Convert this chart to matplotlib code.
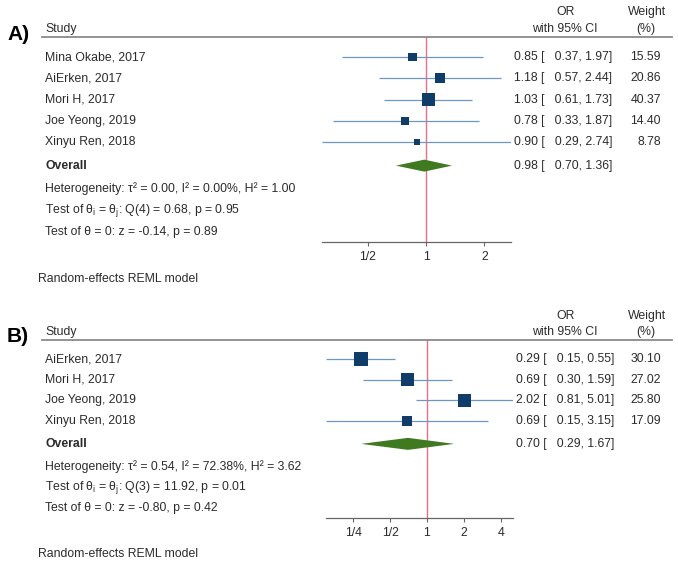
import matplotlib
matplotlib.use("Agg")
import matplotlib.pyplot as plt
import matplotlib.transforms as mtransforms
import numpy as np

plt.rcParams['font.family'] = ['Liberation Sans', 'DejaVu Sans']
plt.rcParams['mathtext.fontset'] = 'custom'
plt.rcParams['mathtext.rm'] = 'Liberation Sans'
plt.rcParams['mathtext.it'] = 'Liberation Sans:italic'
plt.rcParams['mathtext.bf'] = 'Liberation Sans:bold'

# panel A
studies_a = ['Mina Okabe, 2017', 'AiErken, 2017', 'Mori H, 2017',
             'Joe Yeong, 2019', 'Xinyu Ren, 2018']
or_a = [0.85, 1.18, 1.03, 0.78, 0.90]
lo_a = [0.37, 0.57, 0.61, 0.33, 0.29]
hi_a = [1.97, 2.44, 1.73, 1.87, 2.74]
weight_a = [15.59, 20.86, 40.37, 14.40, 8.78]
overall_a = [0.98, 0.70, 1.36]
stats_a = ['Heterogeneity: τ² = 0.00, I² = 0.00%, H² = 1.00',
           r'Test of θ$_\mathrm{i}$ = θ$_\mathrm{j}$: Q(4) = 0.68, p = 0.95',
           'Test of θ = 0: z = -0.14, p = 0.89']
ticks_a = [0.5, 1, 2]
ticklabels_a = ['1/2', '1', '2']

# panel B
studies_b = ['AiErken, 2017', 'Mori H, 2017', 'Joe Yeong, 2019', 'Xinyu Ren, 2018']
or_b = [0.29, 0.69, 2.02, 0.69]
lo_b = [0.15, 0.30, 0.81, 0.15]
hi_b = [0.55, 1.59, 5.01, 3.15]
weight_b = [30.10, 27.02, 25.80, 17.09]
overall_b = [0.70, 0.29, 1.67]
stats_b = ['Heterogeneity: τ² = 0.54, I² = 72.38%, H² = 3.62',
           r'Test of θ$_\mathrm{i}$ = θ$_\mathrm{j}$: Q(3) = 11.92, p = 0.01',
           'Test of θ = 0: z = -0.80, p = 0.42']
ticks_b = [0.25, 0.5, 1, 2, 4]
ticklabels_b = ['1/4', '1/2', '1', '2', '4']

W, H = 678, 563
TXT = '#2b2b2b'
FS = 8.8


def ci_text(e, l, h):
    return f'{e:.2f} [   {l:.2f}, {h:.2f}]'


def panel(fig, label, studies, es, lo, hi, wt, overall, stats, ticks, ticklabels,
          x0, x1, row0, sp, val_x):
    n = len(studies)
    y_line = -0.92
    y_axis = n + 3.7
    top_px = row0 + y_line * sp
    bot_px = row0 + y_axis * sp
    ax = fig.add_axes([x0 / W, 1 - bot_px / H, (x1 - x0) / W, (bot_px - top_px) / H])
    ax.set_xscale('log', base=2)
    ax.set_xlim(min(lo), max(hi))
    ax.set_ylim(y_axis, y_line)
    tr = mtransforms.blended_transform_factory(fig.transFigure, ax.transData)

    ax.axvline(1, color='#f26d80', lw=1.0, zorder=1)
    ys = np.arange(n)
    ax.hlines(ys, lo, hi, color='#6d98c2', lw=0.9, zorder=2)
    side_px = 13.5 * np.sqrt(np.array(wt) / max(wt))
    ax.scatter(es, ys, marker='s', s=(side_px * 0.72) ** 2, color='#0f3c68',
               linewidths=0, zorder=3)
    oy = n + 0.1
    h = 6.0 / sp
    ax.fill([overall[1], overall[0], overall[2], overall[0]],
            [oy, oy - h, oy, oy + h], color='#3f7a20', lw=0, zorder=3)

    # header
    ax.plot([42 / W, 672 / W], [y_line, y_line], transform=tr, clip_on=False,
            color='#8a8a8a', lw=1.3)
    ax.text(7 / W, y_line - 0.15, label, transform=tr, fontsize=15,
            fontweight='bold', ha='left', va='center', color='black')
    ax.text(45 / W, -1.3, 'Study', transform=tr, fontsize=FS, va='center', color=TXT)
    ax.text(566 / W, -2.1, 'OR', transform=tr, fontsize=FS, va='center', ha='center', color=TXT)
    ax.text(565 / W, -1.3, 'with 95% CI', transform=tr, fontsize=FS, va='center', ha='center', color=TXT)
    ax.text(647 / W, -2.1, 'Weight', transform=tr, fontsize=FS, va='center', ha='center', color=TXT)
    ax.text(646 / W, -1.3, '(%)', transform=tr, fontsize=FS, va='center', ha='center', color=TXT)

    for i in range(n):
        ax.text(45 / W, i, studies[i], transform=tr, fontsize=FS, va='center', color=TXT)
        ax.text(val_x / W, i, ci_text(es[i], lo[i], hi[i]), transform=tr,
                fontsize=FS, va='center', color=TXT)
        ax.text(661 / W, i, f'{wt[i]:.2f}', transform=tr, fontsize=FS, va='center',
                ha='right', color=TXT)
    ax.text(45 / W, oy, 'Overall', transform=tr, fontsize=FS, va='center',
            fontweight='bold', color=TXT)
    ax.text(val_x / W, oy, ci_text(*overall), transform=tr, fontsize=FS,
            va='center', color=TXT)
    for k, s in enumerate(stats):
        ax.text(45 / W, n + 1.2 + k, s, transform=tr, fontsize=FS, va='center', color=TXT)
    ax.text(38 / W, n + 5.4, 'Random-effects REML model', transform=tr, fontsize=FS,
            va='center', color=TXT)

    for side in ['top', 'left', 'right']:
        ax.spines[side].set_visible(False)
    ax.spines['bottom'].set_color('#666666')
    ax.spines['bottom'].set_linewidth(0.9)
    ax.set_yticks([])
    ax.set_xticks(ticks, labels=ticklabels)
    ax.xaxis.set_minor_locator(matplotlib.ticker.NullLocator())
    ax.tick_params(axis='x', direction='out', length=3, width=0.8, color='#666666',
                   labelsize=FS, labelcolor=TXT, pad=3)
    ax.patch.set_alpha(0)
    return ax


fig = plt.figure(figsize=(W / 100, H / 100), dpi=100)
panel(fig, 'A)', studies_a, or_a, lo_a, hi_a, weight_a, overall_a, stats_a,
      ticks_a, ticklabels_a, 321.7, 511, 57, 21.3, 514)
panel(fig, 'B)', studies_b, or_b, lo_b, hi_b, weight_b, overall_b, stats_b,
      ticks_b, ticklabels_b, 326, 512.7, 359, 20.7, 516)

fig.savefig('out.png', dpi=100)
